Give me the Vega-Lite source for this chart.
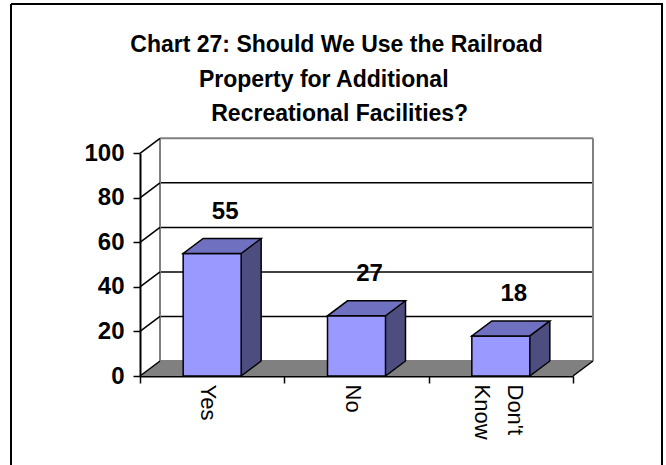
{
  "$schema": "https://vega.github.io/schema/vega-lite/v6.json",
  "width": 651,
  "height": 461,
  "autosize": {"type": "none"},
  "padding": {"left": 11, "top": 4, "right": 4, "bottom": 0},
  "background": "white",
  "config": {
    "view": {"stroke": "black", "strokeWidth": 2, "strokeDash": [1112, 651, 461, 0]},
    "font": "Liberation Sans"
  },
  "title": {
    "text": ["Chart 27: Should We Use the Railroad", "Property for Additional\u00a0\u00a0\u00a0\u00a0\u200b", "\u200b\u00a0Recreational Facilities?"],
    "anchor": "middle",
    "frame": "group",
    "orient": "top",
    "font": "Liberation Sans",
    "fontSize": 23,
    "fontWeight": "bold",
    "color": "black",
    "lineHeight": 34.5,
    "baseline": "alphabetic",
    "offset": 0,
    "dy": 140
  },
  "datasets": {
    "answers": [
      {"answer": "Yes", "percent": 55},
      {"answer": "No", "percent": 27},
      {"answer": "Don't Know", "percent": 18}
    ],
    "grid": [{"v": 0}, {"v": 20}, {"v": 40}, {"v": 60}, {"v": 80}, {"v": 100}]
  },
  "layer": [
    {
      "data": {"name": "grid"},
      "layer": [
        {
          "transform": [{"filter": "datum.v == 0"}],
          "mark": {"type": "point", "shape": "M 0 0 L 433 0 L 453 -15 L 20 -15 Z", "size": 4, "filled": true, "fill": "#808080", "opacity": 1, "strokeWidth": 0},
          "encoding": {
            "x": {
              "datum": 0,
              "type": "quantitative",
              "scale": {"domain": [0, 1], "range": [129, 562]},
              "axis": {
                "orient": "bottom",
                "offset": -89,
                "title": null,
                "values": [0, 0.33333, 0.66667, 1],
                "labels": false,
                "domain": false,
                "grid": false,
                "tickColor": "black",
                "tickWidth": 1.5,
                "tickSize": 7
              }
            },
            "y": {"field": "v", "type": "quantitative"}
          }
        },
        {
          "transform": [{"filter": "datum.v > 0 && datum.v < 100"}],
          "mark": {"type": "rule", "color": "black", "strokeWidth": 1.5, "xOffset": 20, "x2Offset": 20, "yOffset": -15},
          "encoding": {
            "x": {"datum": 0, "type": "quantitative"},
            "x2": {"datum": 1},
            "y": {"field": "v", "type": "quantitative"}
          }
        },
        {
          "transform": [{"filter": "datum.v == 0 || datum.v == 100"}],
          "mark": {"type": "rule", "color": "#808080", "strokeWidth": 2, "xOffset": 20, "x2Offset": 20, "yOffset": -15},
          "encoding": {
            "x": {"datum": 0, "type": "quantitative"},
            "x2": {"datum": 1},
            "y": {"field": "v", "type": "quantitative"}
          }
        },
        {
          "transform": [{"filter": "datum.v == 0"}],
          "mark": {"type": "rule", "color": "#808080", "strokeWidth": 2, "xOffset": 20, "yOffset": -15, "y2Offset": -15},
          "encoding": {
            "x": {"datum": 0, "type": "quantitative"},
            "y": {"field": "v", "type": "quantitative"},
            "y2": {"datum": 100}
          }
        },
        {
          "transform": [{"filter": "datum.v == 0"}],
          "mark": {"type": "rule", "color": "#808080", "strokeWidth": 2, "xOffset": 20, "yOffset": -15, "y2Offset": -15},
          "encoding": {
            "x": {"datum": 1, "type": "quantitative"},
            "y": {"field": "v", "type": "quantitative"},
            "y2": {"datum": 100}
          }
        },
        {
          "mark": {"type": "rule", "color": "black", "strokeWidth": 1.5, "x2Offset": 20, "y2Offset": -15},
          "encoding": {
            "x": {"datum": 0, "type": "quantitative"},
            "x2": {"datum": 0},
            "y": {"field": "v", "type": "quantitative"},
            "y2": {"field": "v"}
          }
        },
        {
          "transform": [{"filter": "datum.v == 0"}],
          "mark": {"type": "rule", "color": "black", "strokeWidth": 1.5, "x2Offset": 20, "y2Offset": -15},
          "encoding": {
            "x": {"datum": 1, "type": "quantitative"},
            "x2": {"datum": 1},
            "y": {"field": "v", "type": "quantitative"},
            "y2": {"field": "v"}
          }
        }
      ]
    },
    {
      "data": {"name": "answers"},
      "encoding": {
        "x": {
          "field": "answer",
          "type": "nominal",
          "scale": {"domain": ["Yes", "No", "Don't Know"], "range": [129, 562], "paddingInner": 0.6, "paddingOuter": 0.3},
          "axis": {
            "orient": "bottom",
            "offset": -89,
            "title": null,
            "domainColor": "black",
            "domainWidth": 2,
            "ticks": false,
            "labelAngle": 90,
            "labelAlign": "left",
            "labelBaseline": "middle",
            "labelFontSize": 22,
            "labelLineHeight": 33,
            "labelColor": "black",
            "labelPadding": 8,
            "labelOffset": {"condition": {"test": "datum.value == \"Don't Know\"", "value": 14}, "value": -4},
            "labelExpr": "datum.value == \"Don't Know\" ? [\"Don't\", \"Know\"] : datum.value"
          }
        }
      },
      "layer": [
        {
          "mark": {"type": "bar", "width": 20, "xOffset": 39, "yOffset": -15, "y2Offset": -15, "fill": "#4d4d80", "strokeWidth": 0},
          "encoding": {
            "y": {
              "field": "percent",
              "type": "quantitative",
              "scale": {"domain": [0, 100], "range": [372, 149.3], "nice": false},
              "axis": {
                "orient": "left",
                "offset": -129,
                "title": null,
                "values": [0, 20, 40, 60, 80, 100],
                "domainColor": "black",
                "domainWidth": 2,
                "tickColor": "black",
                "tickWidth": 1.5,
                "tickSize": 7,
                "labelFontSize": 24,
                "labelFontWeight": "bold",
                "labelColor": "black",
                "labelPadding": 9,
                "grid": false
              }
            }
          }
        },
        {
          "mark": {"type": "point", "shape": "M 29 0 L 49 -15 L 29 -15 Z", "size": 4, "filled": true, "fill": "#4d4d80", "opacity": 1, "strokeWidth": 0},
          "encoding": {"y": {"datum": 0, "type": "quantitative"}}
        },
        {
          "mark": {"type": "bar", "width": 58, "fill": "#9999ff", "stroke": "black", "strokeWidth": 1.5},
          "encoding": {"y": {"field": "percent", "type": "quantitative"}}
        },
        {
          "mark": {"type": "point", "shape": "M -29 0 L 29 0 L 49 -15 L -9 -15 Z", "size": 4, "filled": true, "fill": "#7070c0", "stroke": "black", "strokeWidth": 1.5, "opacity": 1},
          "encoding": {"y": {"field": "percent", "type": "quantitative"}}
        },
        {
          "mark": {"type": "rule", "color": "black", "strokeWidth": 1.5, "xOffset": 49, "yOffset": -15, "y2Offset": -15},
          "encoding": {"y": {"field": "percent", "type": "quantitative"}, "y2": {"datum": 0}}
        },
        {
          "mark": {"type": "point", "shape": "M 29 0 L 49 -15", "size": 4, "filled": false, "stroke": "black", "strokeWidth": 1.5, "opacity": 1},
          "encoding": {"y": {"datum": 0, "type": "quantitative"}}
        },
        {
          "mark": {"type": "text", "font": "Liberation Sans", "fontSize": 24, "fontWeight": "bold", "color": "black", "dx": 13, "dy": -35, "baseline": "alphabetic"},
          "encoding": {"y": {"field": "percent", "type": "quantitative"}, "text": {"field": "percent", "type": "quantitative"}}
        }
      ]
    }
  ],
  "resolve": {"scale": {"x": "independent"}}
}
